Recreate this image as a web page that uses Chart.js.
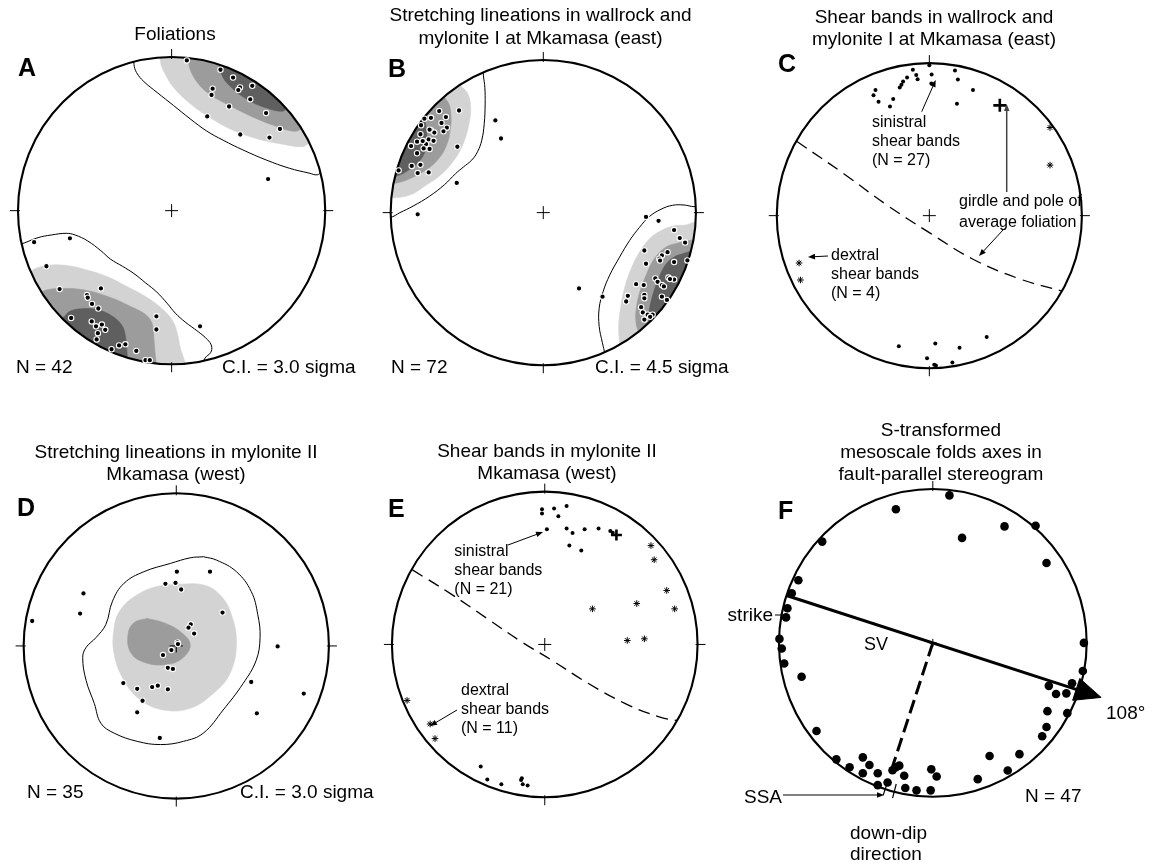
<!DOCTYPE html>
<html>
<head>
<meta charset="utf-8">
<title>Stereonets A–F</title>
<script src="https://cdn.jsdelivr.net/npm/chart.js@4.4.1/dist/chart.umd.min.js"></script>
<style>
  html, body { margin: 0; padding: 0; background: #fff; }
  #figure { position: relative; width: 1153px; height: 864px; overflow: hidden; background: #fff; }
  #figure canvas { position: absolute; left: 0; top: 0; }
</style>
</head>
<body>
<div id="figure"></div>
<script>
// Positions are stereonet coordinates: x = east, y = north, primitive circle radius = 1.

// ---------- A: foliations ----------
const foliationPoles = [
  [0.099,0.981],[0.318,0.920],[0.400,0.869],[0.445,0.804],[0.434,0.787],[0.525,0.815],[0.267,0.796],[0.260,0.755],
  [0.512,0.727],[0.374,0.680],[0.615,0.637],[0.232,0.615],[0.705,0.533],[0.447,0.497],[0.637,0.477],[0.628,0.206],
  [-0.895,-0.206],[-0.662,-0.181],[-0.815,-0.363],[-0.729,-0.512],[-0.460,-0.508],[-0.551,-0.551],[-0.546,-0.568],
  [-0.518,-0.609],[-0.477,-0.639],[-0.654,-0.701],[-0.520,-0.723],[-0.492,-0.755],[-0.454,-0.744],[-0.432,-0.778],
  [-0.480,-0.800],[-0.488,-0.841],[-0.391,-0.905],[-0.342,-0.880],[-0.301,-0.873],[-0.230,-0.916],[-0.170,-0.976],
  [-0.142,-0.976],[-0.099,-0.690],[-0.099,-0.776],[0.185,-0.755]
];
const foliationNE0 = [[-0.249,1.05],[-0.245,0.955],[-0.228,0.901],[-0.181,0.843],[-0.095,0.772],[0.013,0.686],[0.120,0.600],[0.228,0.520],[0.335,0.460],[0.465,0.396],[0.615,0.331],[0.766,0.277],[0.895,0.245],[0.948,0.234],[0.981,0.256],[1.1,0.3],[1.1,1.1],[-0.25,1.1]];
const foliationNE1 = [[-0.077,1.05],[-0.069,0.955],[-0.041,0.890],[0.013,0.804],[0.110,0.708],[0.228,0.622],[0.378,0.535],[0.551,0.471],[0.723,0.434],[0.852,0.417],[0.884,0.434],[1.1,0.5],[1.1,1.1],[-0.077,1.1]];
const foliationNE2 = [[0.105,1.05],[0.112,0.955],[0.153,0.858],[0.239,0.766],[0.378,0.686],[0.529,0.611],[0.680,0.551],[0.798,0.518],[0.852,0.535],[1.1,0.6],[1.1,1.1],[0.105,1.1]];
const foliationNE3 = [[0.303,1.0],[0.325,0.890],[0.378,0.815],[0.486,0.729],[0.615,0.671],[0.723,0.649],[0.755,0.675],[1.0,0.75],[1.1,1.1],[0.3,1.1]];
const foliationSW0 = [[-1.05,-0.24],[-0.959,-0.211],[-0.869,-0.176],[-0.783,-0.159],[-0.686,-0.148],[-0.628,-0.159],[-0.546,-0.198],[-0.460,-0.262],[-0.396,-0.318],[-0.320,-0.363],[-0.245,-0.411],[-0.170,-0.471],[-0.095,-0.533],[-0.030,-0.604],[0.024,-0.669],[0.088,-0.727],[0.174,-0.791],[0.232,-0.841],[0.260,-0.884],[0.254,-0.927],[0.217,-0.963],[0.185,-1.05],[0.1,-1.2],[-1.2,-1.2],[-1.2,-0.3]];
const foliationSW1 = [[-1.0,-0.42],[-0.923,-0.400],[-0.890,-0.379],[-0.804,-0.357],[-0.697,-0.357],[-0.568,-0.383],[-0.417,-0.432],[-0.288,-0.497],[-0.170,-0.561],[-0.062,-0.641],[0.009,-0.723],[0.039,-0.809],[0.056,-0.895],[0.077,-0.959],[0.099,-1.05],[0.05,-1.2],[-1.2,-1.2],[-1.2,-0.45]];
const foliationSW2 = [[-0.9,-0.56],[-0.858,-0.540],[-0.815,-0.518],[-0.718,-0.508],[-0.568,-0.518],[-0.396,-0.568],[-0.266,-0.626],[-0.163,-0.684],[-0.125,-0.744],[-0.116,-0.830],[-0.108,-0.927],[-0.095,-1.05],[-0.1,-1.2],[-1.2,-1.2],[-1.2,-0.6]];
const foliationSW3 = [[-0.74,-0.72],[-0.697,-0.690],[-0.665,-0.658],[-0.589,-0.641],[-0.482,-0.647],[-0.385,-0.690],[-0.320,-0.755],[-0.299,-0.830],[-0.292,-0.905],[-0.288,-1.0],[-0.3,-1.2],[-1.2,-1.2],[-1.2,-0.75]];

// ---------- B: stretching lineations, wallrock and mylonite I ----------
const lineationsEast = [
  [-0.552,0.671],[-0.682,0.667],[-0.736,0.623],[-0.638,0.628],[-0.779,0.617],[-0.801,0.574],[-0.667,0.589],[-0.632,0.558],
  [-0.736,0.541],[-0.714,0.526],[-0.654,0.534],[-0.805,0.515],[-0.751,0.481],[-0.719,0.472],[-0.827,0.466],[-0.768,0.450],
  [-0.866,0.437],[-0.784,0.422],[-0.745,0.418],[-0.827,0.390],[-0.563,0.433],[-0.862,0.307],[-0.805,0.314],[-0.823,0.260],
  [-0.751,0.264],[-0.948,0.277],[-0.567,0.195],[-0.823,-0.011],[-0.314,0.606],[-0.277,0.487],[-0.745,0.545],[-0.790,0.470],
  [0.673,-0.028],[0.755,-0.054],[0.857,-0.115],[0.894,-0.167],[0.929,-0.197],[0.662,-0.249],[0.777,-0.281],[0.814,-0.260],
  [0.760,-0.303],[0.857,-0.325],[0.944,-0.314],[0.673,-0.336],[0.820,-0.427],[0.857,-0.440],[0.734,-0.433],[0.749,-0.455],
  [0.777,-0.476],[0.608,-0.470],[0.658,-0.476],[0.554,-0.547],[0.543,-0.584],[0.662,-0.541],[0.662,-0.563],[0.777,-0.552],
  [0.810,-0.574],[0.641,-0.621],[0.652,-0.656],[0.684,-0.671],[0.716,-0.671],[0.662,-0.703],[0.388,-0.552],[0.234,-0.498],
  [0.765,-0.315],[0.830,-0.437],[0.790,-0.485],[0.700,-0.685]
];
const lineationsNW0 = [[-0.40,1.0],[-0.392,0.898],[-0.383,0.823],[-0.381,0.714],[-0.387,0.584],[-0.403,0.476],[-0.431,0.400],[-0.468,0.346],[-0.524,0.299],[-0.576,0.255],[-0.647,0.184],[-0.745,0.108],[-0.853,0.043],[-0.939,0.000],[-1.004,-0.032],[-1.2,-0.05],[-1.2,1.2],[-0.4,1.2]];
const lineationsNW1 = [[-0.628,0.9],[-0.541,0.833],[-0.494,0.779],[-0.476,0.693],[-0.487,0.584],[-0.524,0.455],[-0.584,0.346],[-0.671,0.249],[-0.779,0.173],[-0.866,0.119],[-0.974,0.097],[-1.05,0.1],[-1.2,0.1],[-1.2,1.2],[-0.63,1.2]];
const lineationsNW2 = [[-0.70,0.80],[-0.628,0.732],[-0.606,0.649],[-0.610,0.541],[-0.638,0.433],[-0.693,0.346],[-0.768,0.281],[-0.866,0.227],[-0.963,0.195],[-1.1,0.19],[-1.2,1.2],[-0.7,1.2]];
const lineationsNW3 = [[-0.80,0.66],[-0.775,0.600],[-0.765,0.530],[-0.762,0.476],[-0.775,0.400],[-0.815,0.335],[-0.880,0.281],[-0.960,0.242],[-1.1,0.24],[-1.2,1.2],[-0.82,1.2]];
const lineationsSE0 = [[1.05,0.043],[0.987,0.039],[0.922,0.050],[0.846,0.048],[0.771,0.022],[0.695,-0.026],[0.630,-0.097],[0.565,-0.184],[0.500,-0.292],[0.435,-0.411],[0.392,-0.519],[0.366,-0.628],[0.366,-0.747],[0.387,-0.855],[0.403,-0.931],[0.41,-1.05],[0.4,-1.2],[1.2,-1.2],[1.2,0.05]];
const lineationsSE1 = [[1.05,-0.065],[0.987,-0.065],[0.933,-0.082],[0.857,-0.087],[0.771,-0.119],[0.695,-0.173],[0.630,-0.260],[0.576,-0.368],[0.532,-0.498],[0.506,-0.628],[0.494,-0.747],[0.500,-0.855],[0.511,-0.95],[0.5,-1.2],[1.2,-1.2],[1.2,-0.07]];
const lineationsSE2 = [[1.019,-0.173],[0.955,-0.184],[0.879,-0.201],[0.803,-0.227],[0.727,-0.303],[0.669,-0.422],[0.630,-0.530],[0.608,-0.640],[0.608,-0.725],[0.630,-0.801],[0.651,-0.85],[0.6,-1.2],[1.2,-1.2],[1.2,-0.18]];
const lineationsSE3 = [[0.976,-0.249],[0.911,-0.271],[0.857,-0.292],[0.807,-0.335],[0.764,-0.411],[0.727,-0.509],[0.699,-0.617],[0.690,-0.693],[0.695,-0.747],[0.7,-1.2],[1.2,-1.2],[1.2,-0.25]];

// ---------- C: shear bands, wallrock and mylonite I ----------
const sinistralEast = [
  [-0.108,0.961],[0.000,0.991],[-0.086,0.927],[-0.077,0.899],[-0.146,0.910],[-0.172,0.884],[-0.194,0.845],[-0.183,0.862],
  [0.015,0.931],[0.013,0.871],[0.168,0.957],[0.187,0.897],[0.286,0.828],[0.181,0.738],[-0.353,0.828],[-0.366,0.794],
  [-0.333,0.751],[-0.237,0.768],[-0.258,0.720],[-0.200,-0.860],[0.039,-0.843],[0.198,-0.871],[0.376,-0.800],[-0.015,-0.940],
  [0.043,-0.987],[0.151,-0.968],[0.032,-0.983]
];
const dextralEast = [[0.791,0.581],[0.791,0.333],[-0.854,-0.312],[-0.845,-0.424]];
const foliationPoleEast = [[0.462,0.727]];
const girdleEast = [[-0.87,0.49],[-0.559,0.275],[-0.280,0.071],[0.0,-0.112],[0.280,-0.284],[0.581,-0.413],[0.868,-0.497]];

// ---------- D: stretching lineations, mylonite II ----------
const lineationsWest = [
  [0.004,0.488],[0.221,0.488],[-0.071,0.408],[-0.005,0.414],[0.032,0.371],[-0.608,0.345],[-0.630,0.213],[-0.944,0.164],
  [0.303,0.219],[0.095,0.142],[0.080,0.120],[0.117,0.081],[0.008,0.023],[0.011,0.012],[-0.032,-0.027],[-0.087,-0.060],
  [-0.055,-0.144],[-0.022,-0.151],[0.664,-0.003],[-0.347,-0.244],[-0.256,-0.282],[-0.158,-0.270],[-0.121,-0.261],
  [-0.055,-0.285],[-0.221,-0.360],[-0.256,-0.436],[0.491,-0.237],[0.835,-0.313],[0.528,-0.443],[-0.108,-0.605]
];
const lineationsWest0 = [[0.179,0.586],[0.264,0.564],[0.394,0.488],[0.491,0.358],[0.534,0.206],[0.549,0.055],[0.523,-0.096],[0.437,-0.248],[0.307,-0.421],[0.177,-0.573],[0.047,-0.627],[-0.104,-0.648],[-0.256,-0.627],[-0.407,-0.573],[-0.494,-0.508],[-0.537,-0.378],[-0.591,-0.226],[-0.613,-0.075],[-0.591,-0.010],[-0.526,0.055],[-0.461,0.142],[-0.418,0.294],[-0.342,0.412],[-0.212,0.488],[-0.039,0.542],[0.091,0.579],[0.179,0.586]];
const lineationsWest1 = [[0.004,0.406],[0.177,0.401],[0.286,0.336],[0.361,0.206],[0.394,0.012],[0.351,-0.183],[0.242,-0.313],[0.091,-0.410],[-0.082,-0.421],[-0.234,-0.356],[-0.342,-0.226],[-0.407,-0.053],[-0.407,0.120],[-0.364,0.239],[-0.256,0.336],[-0.126,0.391],[0.004,0.406]];
const lineationsWest2 = [[-0.191,0.181],[-0.082,0.153],[0.026,0.094],[0.091,0.012],[0.047,-0.075],[-0.061,-0.122],[-0.212,-0.107],[-0.299,-0.042],[-0.316,0.077],[-0.277,0.153],[-0.191,0.181]];

// ---------- E: shear bands, mylonite II ----------
const sinistralWest = [
  [-0.018,0.889],[-0.018,0.861],[0.061,0.894],[0.143,0.911],[0.089,0.843],[0.014,0.757],[0.143,0.763],[0.182,0.733],
  [0.261,0.757],[0.352,0.763],[0.429,0.746],[0.445,0.735],[0.161,0.650],[0.239,0.617],[-0.419,-0.802],[-0.376,-0.888],
  [-0.284,-0.920],[-0.155,-0.892],[-0.144,-0.920],[-0.112,-0.927],[-0.150,-0.880]
];
const dextralWest = [[0.695,0.650],[0.716,0.557],[0.798,0.355],[0.850,0.234],[0.602,0.269],[0.312,0.234],[0.540,0.026],[0.652,0.037],[-0.901,-0.368],[-0.750,-0.523],[-0.718,-0.619]];
const foliationPoleWest = [[0.469,0.720]];
const girdleWest = [[-0.866,0.49],[-0.617,0.334],[-0.381,0.173],[-0.144,0.012],[0.050,-0.106],[0.286,-0.257],[0.544,-0.397],[0.759,-0.479],[0.866,-0.500]];

// ---------- F: S-transformed fold axes ----------
const foldAxes = [
  [0.108,0.961],[-0.240,0.871],[0.466,0.759],[0.668,0.763],[0.190,0.684],[0.739,0.521],[-0.719,0.660],[-0.874,0.408],
  [-0.917,0.323],[-0.945,0.226],[-0.954,0.166],[-0.997,0.026],[-0.982,-0.037],[-0.966,-0.134],[-0.853,-0.221],
  [0.982,0.000],[0.975,-0.183],[0.905,-0.263],[0.754,-0.280],[0.801,-0.333],[0.868,-0.329],[0.745,-0.445],[0.874,-0.458],
  [0.739,-0.548],[0.711,-0.608],[0.563,-0.725],[0.369,-0.737],[0.487,-0.832],[0.292,-0.888],[-0.756,-0.574],[-0.627,-0.759],
  [-0.541,-0.811],[-0.455,-0.746],[-0.412,-0.796],[-0.455,-0.850],[-0.358,-0.850],[-0.358,-0.927],[-0.294,-0.910],
  [-0.240,-0.811],[-0.218,-0.800],[-0.186,-0.866],[-0.179,-0.946],[-0.106,-0.961],[-0.014,-0.961],[-0.010,-0.824],
  [0.025,-0.871],[-0.262,-0.830]
];
const strikeAzimuth = 108;                 // degrees, labelled at the arrow
const downDipAzimuth = strikeAzimuth + 90; // dashed line direction
const rimMarkerAzimuths = [198, 194.5];    // SSA / down-dip marks on the primitive

// ---------- helpers ----------
const W = 1153, H = 864;
const FONT = "'Liberation Sans', Arial, Helvetica, sans-serif";
const SHADES = ['#ffffff', '#d3d3d3', '#9c9c9c', '#5f5f5f'];
const xy = a => a.map(([x, y]) => ({ x, y }));
const unit = az => [Math.sin(az * Math.PI / 180), Math.cos(az * Math.PI / 180)];

function contour(points, level) {
  return {
    data: xy(points), showLine: true, fill: 'shape', tension: 0.4,
    backgroundColor: SHADES[level],
    borderColor: level === 0 ? '#000000' : SHADES[level],
    borderWidth: level === 0 ? 1 : 0.6,
    pointRadius: 0, order: 40 - level, inCircle: true
  };
}
function dots(points, radius, ring) {
  return {
    data: xy(points), showLine: false, pointRadius: radius,
    pointBackgroundColor: '#000', pointBorderColor: '#fff',
    pointBorderWidth: ring ? 1.1 : 0, order: 1
  };
}
function stars(points) {
  return {
    data: xy(points), showLine: false, pointStyle: 'star', pointRadius: 3.3,
    pointBorderColor: '#000', pointBackgroundColor: '#000', pointBorderWidth: 1, order: 1
  };
}
function pole(points, radius) {
  return {
    data: xy(points), showLine: false, pointStyle: 'cross', pointRadius: radius,
    pointBorderColor: '#000', pointBorderWidth: 2.6, order: 0
  };
}
function girdle(points) {
  return {
    data: xy(points), showLine: true, fill: false, tension: 0.4, pointRadius: 0,
    borderColor: '#000', borderWidth: 1.3, borderDash: [12, 7], order: 5
  };
}
function segment(points, width, dash, order) {
  return {
    data: xy(points), showLine: true, fill: false, tension: 0, pointRadius: 0,
    borderColor: '#000', borderWidth: width, borderDash: dash || [], order: order
  };
}

// F: strike line, its arrowhead, the down-dip line and the rim markers
const [sx, sy] = unit(strikeAzimuth);
const [dx, dy] = unit(downDipAzimuth);
const strikeLine = [[-sx, -sy], [sx * 0.99, sy * 0.99]];
const strikeHead = [[sx * 1.15, sy * 1.15], [sx * 0.98 + dx * 0.075, sy * 0.98 + dy * 0.075], [sx * 0.98 - dx * 0.075, sy * 0.98 - dy * 0.075], [sx * 1.15, sy * 1.15]];
const downDipLine = [[0, 0], [dx * 0.88, dy * 0.88]];
const rimMarkers = rimMarkerAzimuths.map(az => { const [ux, uy] = unit(az); return [[ux * 0.95, uy * 0.95], [ux * 1.045, uy * 1.045]]; });

// ---------- panels ----------
const T = (t, x, y, s, extra) => Object.assign({ t, x, y, s }, extra || {});
const panels = [
  {
    cx: 168, cy: 208, r: 155, ticks: [0, 90, 180, 270], cross: 6.5,
    datasets: [
      contour(foliationNE0, 0), contour(foliationSW0, 0), contour(foliationNE1, 1), contour(foliationSW1, 1),
      contour(foliationNE2, 2), contour(foliationSW2, 2), contour(foliationNE3, 3), contour(foliationSW3, 3),
      dots(foliationPoles, 2.7, true)
    ],
    texts: [T('Foliations', 175, 40, 19, { a: 'center' }), T('A', 18, 76, 25, { b: true }),
            T('N = 42', 16, 373, 19), T('C.I. = 3.0 sigma', 222, 373, 19)],
    arrows: []
  },
  {
    cx: 543, cy: 210, r: 154, ticks: [0, 90, 180, 270], cross: 6.5,
    datasets: [
      contour(lineationsNW0, 0), contour(lineationsSE0, 0), contour(lineationsNW1, 1), contour(lineationsSE1, 1),
      contour(lineationsNW2, 2), contour(lineationsSE2, 2), contour(lineationsNW3, 3), contour(lineationsSE3, 3),
      dots(lineationsEast, 2.7, true)
    ],
    texts: [T('Stretching lineations in wallrock and', 540.5, 21, 19, { a: 'center' }),
            T('mylonite I at Mkamasa (east)', 540.5, 44, 19, { a: 'center' }), T('B', 388, 77, 25, { b: true }),
            T('N = 72', 391, 373, 19), T('C.I. = 4.5 sigma', 595, 373, 19)],
    arrows: []
  },
  {
    cx: 935, cy: 211, r: 155, ticks: [0, 90, 180, 270], cross: 6.5,
    datasets: [girdle(girdleEast), dots(sinistralEast, 2, false), stars(dextralEast), pole(foliationPoleEast, 6.5)],
    texts: [T('Shear bands in wallrock and', 934, 22.7, 19, { a: 'center' }),
            T('mylonite I at Mkamasa (east)', 934, 45, 19, { a: 'center' }), T('C', 778, 72, 25, { b: true }),
            T('sinistral', 872, 127, 16), T('shear bands', 872, 146, 16), T('(N = 27)', 872, 165, 16),
            T('girdle and pole of', 959, 206, 16), T('average foliation', 959, 227, 16),
            T('dextral', 831, 260, 16), T('shear bands', 831, 279, 16), T('(N = 4)', 831, 298, 16)],
    arrows: [{ p: [921.7, 111.7, 935.7, 80] }, { p: [1006.7, 192, 1006.7, 104], c: '#444', w: 1.5 },
             { p: [1003, 230, 979, 256] }, { p: [828, 256, 808, 257] }]
  },
  {
    cx: 172.7, cy: 648.5, r: 154, ticks: [0, 90, 180, 270], cross: 6.5,
    datasets: [contour(lineationsWest0, 0), contour(lineationsWest1, 1), contour(lineationsWest2, 2), dots(lineationsWest, 2.7, true)],
    texts: [T('Stretching lineations in mylonite II', 176, 458.3, 19, { a: 'center' }),
            T('Mkamasa (west)', 176, 480, 19, { a: 'center' }), T('D', 17, 516, 25, { b: true }),
            T('N = 35', 27, 798, 19), T('C.I. = 3.0 sigma', 240, 798, 19)],
    arrows: []
  },
  {
    cx: 544.3, cy: 648.5, r: 155, ticks: [0, 90, 180, 270], cross: 6.5,
    datasets: [girdle(girdleWest), dots(sinistralWest, 2, false), stars(dextralWest), pole(foliationPoleWest, 5.5)],
    texts: [T('Shear bands in mylonite II', 547, 456.7, 19, { a: 'center' }),
            T('Mkamasa (west)', 547, 479.3, 19, { a: 'center' }), T('E', 388, 517, 25, { b: true }),
            T('sinistral', 454.3, 556, 16), T('shear bands', 454.3, 575, 16), T('(N = 21)', 454.3, 594, 16),
            T('dextral', 461, 695, 16), T('shear bands', 461, 714, 16), T('(N = 11)', 461, 733, 16)],
    arrows: [{ p: [508, 545, 543, 532] }, { p: [457, 710, 430, 726] }]
  },
  {
    cx: 935.5, cy: 645, r: 155, ticks: [0], cross: 4,
    datasets: [
      segment(strikeLine, 3, null, 6),
      Object.assign(segment(strikeHead, 1, null, 6), { fill: 'shape', backgroundColor: '#000' }),
      segment(downDipLine, 3, [14, 6], 6),
      ...rimMarkers.map(m => segment(m, 1.2, null, 6)),
      dots(foldAxes, 4.3, false)
    ],
    texts: [T('S-transformed', 941, 436, 19, { a: 'center' }), T('mesoscale folds axes in', 941, 458, 19, { a: 'center' }),
            T('fault-parallel stereogram', 941, 480, 19, { a: 'center' }), T('F', 778, 519, 25, { b: true }),
            T('strike', 773, 621, 19, { a: 'right' }), T('SV', 864, 650, 18), T('108°', 1106, 719, 19),
            T('N = 47', 1025, 802, 19), T('SSA', 782, 803, 19, { a: 'right' }),
            T('down-dip', 850, 839, 19), T('direction', 850, 860, 19)],
    arrows: [{ p: [775, 615, 784, 615], head: false }, { p: [783, 795, 884, 795] }]
  }
];

// ---------- drawing ----------
function drawArrow(ctx, a) {
  const [x1, y1, x2, y2] = a.p;
  const ang = Math.atan2(y2 - y1, x2 - x1), c = Math.cos(ang), s = Math.sin(ang);
  const hl = a.head === false ? 0 : 7, hw = 2.8;
  ctx.save();
  ctx.strokeStyle = a.c || '#000'; ctx.fillStyle = a.c || '#000'; ctx.lineWidth = a.w || 1;
  ctx.beginPath(); ctx.moveTo(x1, y1); ctx.lineTo(x2 - c * hl * 0.7, y2 - s * hl * 0.7); ctx.stroke();
  if (hl) {
    ctx.beginPath(); ctx.moveTo(x2, y2);
    ctx.lineTo(x2 - hl * c + hw * s, y2 - hl * s - hw * c);
    ctx.lineTo(x2 - hl * c - hw * s, y2 - hl * s + hw * c);
    ctx.closePath(); ctx.fill();
  }
  ctx.restore();
}

function stereoPlugin(p) {
  let clipped = false;
  const geom = chart => {
    const xs = chart.scales.x, ys = chart.scales.y;
    const cx = xs.getPixelForValue(0), cy = ys.getPixelForValue(0);
    return { cx, cy, r: xs.getPixelForValue(1) - cx };
  };
  const frame = chart => {
    const { cx, cy, r } = geom(chart), ctx = chart.ctx;
    ctx.save();
    ctx.strokeStyle = '#000';
    ctx.lineWidth = 2.1;
    ctx.beginPath(); ctx.arc(cx, cy, r, 0, Math.PI * 2); ctx.stroke();
    ctx.lineWidth = 1;
    for (const az of p.ticks) {
      const a = az * Math.PI / 180, ux = Math.sin(a), uy = -Math.cos(a);
      ctx.beginPath(); ctx.moveTo(cx + ux * (r - 2), cy + uy * (r - 2)); ctx.lineTo(cx + ux * (r + 8), cy + uy * (r + 8)); ctx.stroke();
    }
    ctx.beginPath();
    ctx.moveTo(cx - p.cross, cy); ctx.lineTo(cx + p.cross, cy);
    ctx.moveTo(cx, cy - p.cross); ctx.lineTo(cx, cy + p.cross);
    ctx.stroke();
    ctx.restore();
  };
  return {
    id: 'stereonet',
    beforeDatasetsDraw(chart) {
      const { cx, cy, r } = geom(chart), ctx = chart.ctx;
      ctx.save(); ctx.beginPath(); ctx.arc(cx, cy, r, 0, Math.PI * 2); ctx.clip();
      clipped = true;
    },
    beforeDatasetDraw(chart, args) {
      if (clipped && !chart.data.datasets[args.index].inCircle) {
        chart.ctx.restore(); clipped = false; frame(chart);
      }
    },
    afterDatasetsDraw(chart) {
      const ctx = chart.ctx;
      if (clipped) { ctx.restore(); clipped = false; frame(chart); }
      ctx.save();
      ctx.fillStyle = '#000'; ctx.textBaseline = 'alphabetic';
      for (const t of p.texts) {
        ctx.font = (t.b ? 'bold ' : '') + t.s + 'px ' + FONT;
        ctx.textAlign = t.a || 'left';
        ctx.fillText(t.t, t.x, t.y);
      }
      ctx.restore();
      for (const a of p.arrows) drawArrow(ctx, a);
    }
  };
}

const figure = document.getElementById('figure');
for (const p of panels) {
  const canvas = document.createElement('canvas');
  canvas.width = W; canvas.height = H;
  canvas.style.width = W + 'px'; canvas.style.height = H + 'px';
  figure.appendChild(canvas);
  new Chart(canvas, {
    type: 'scatter',
    data: { datasets: p.datasets },
    options: {
      responsive: false, animation: false, events: [],
      layout: { padding: 0 },
      plugins: { legend: { display: false }, tooltip: { enabled: false }, title: { display: false } },
      scales: {
        x: { type: 'linear', display: false, min: -p.cx / p.r, max: (W - p.cx) / p.r },
        y: { type: 'linear', display: false, min: -(H - p.cy) / p.r, max: p.cy / p.r }
      }
    },
    plugins: [stereoPlugin(p)]
  });
}
</script>
</body>
</html>
